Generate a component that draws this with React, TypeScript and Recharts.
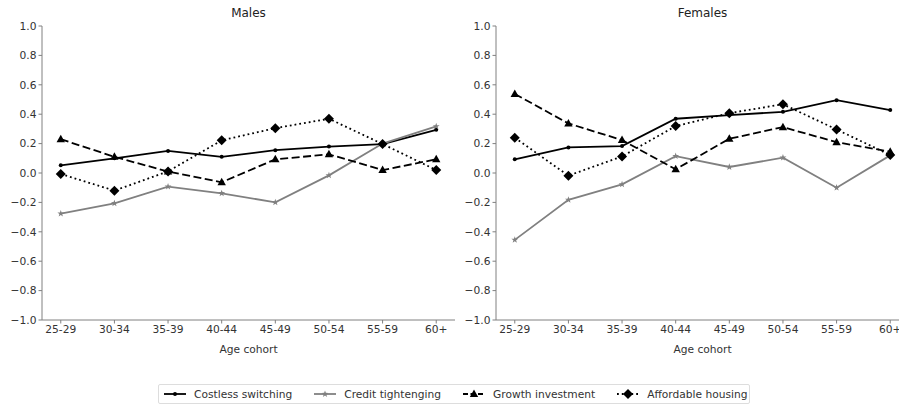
import React from "react";
import { LineChart, Line, XAxis, YAxis } from "recharts";

const cohorts = ["25-29", "30-34", "35-39", "40-44", "45-49", "50-54", "55-59", "60+"];
const yTicks = [-1, -0.8, -0.6, -0.4, -0.2, 0, 0.2, 0.4, 0.6, 0.8, 1];

const malesCostless = [0.052, 0.1, 0.15, 0.11, 0.155, 0.18, 0.197, 0.294];
const malesCredit = [-0.276, -0.206, -0.093, -0.138, -0.2, -0.016, 0.2, 0.317];
const malesGrowth = [0.23, 0.11, 0.01, -0.063, 0.093, 0.127, 0.02, 0.093];
const malesHousing = [-0.007, -0.12, 0.011, 0.222, 0.305, 0.369, 0.197, 0.02];

const femalesCostless = [0.093, 0.174, 0.183, 0.369, 0.394, 0.416, 0.495, 0.428];
const femalesCredit = [-0.455, -0.183, -0.077, 0.115, 0.041, 0.104, -0.1, 0.12];
const femalesGrowth = [0.538, 0.337, 0.224, 0.025, 0.233, 0.312, 0.21, 0.145];
const femalesHousing = [0.24, -0.018, 0.113, 0.319, 0.407, 0.468, 0.296, 0.122];

const FONT = "'DejaVu Sans', sans-serif";
const AXIS = "#808080";
const TEXT = "#333";
const FS = 10.67;

const fmtY = (v: number) => {
  const s = Math.abs(v).toFixed(1);
  return v < -1e-9 ? "\u2212" + s : s;
};

// markers
const SmallDot = (p: any) => <circle cx={p.cx} cy={p.cy} r={2} fill="#000" />;

const starPath = (cx: number, cy: number, R: number) => {
  const r = R * 0.4;
  let d = "";
  for (let i = 0; i < 10; i++) {
    const a = -Math.PI / 2 + (i * Math.PI) / 5;
    const rr = i % 2 === 0 ? R : r;
    d += (i === 0 ? "M" : "L") + (cx + rr * Math.cos(a)).toFixed(2) + "," + (cy + rr * Math.sin(a)).toFixed(2);
  }
  return d + "Z";
};
const Star = (p: any) => <path d={starPath(p.cx, p.cy, 3.6)} fill="#808080" />;

const Triangle = (p: any) => (
  <path d={`M${p.cx},${p.cy - 4.5}L${p.cx + 4.2},${p.cy + 3}L${p.cx - 4.2},${p.cy + 3}Z`} fill="#000" />
);

const Diamond = (p: any) => (
  <path d={`M${p.cx},${p.cy - 5}L${p.cx + 5},${p.cy}L${p.cx},${p.cy + 5}L${p.cx - 5},${p.cy}Z`} fill="#000" />
);

function Panel({
  title,
  costless,
  credit,
  growth,
  housing,
}: {
  title: string;
  costless: number[];
  credit: number[];
  growth: number[];
  housing: number[];
}) {
  const data = cohorts.map((c, i) => ({
    x: i,
    costless: costless[i],
    credit: credit[i],
    growth: growth[i],
    housing: housing[i],
  }));
  return (
    <div style={{ position: "relative", width: 460, height: 360 }}>
      <div
        style={{
          position: "absolute",
          left: 42,
          width: 413,
          top: 6,
          textAlign: "center",
          fontSize: 12,
          color: "#222",
          fontFamily: FONT,
        }}
      >
        {title}
      </div>
      <LineChart width={460} height={360} data={data} margin={{ top: 26, right: 5, bottom: 0, left: 0 }}>
        <XAxis
          dataKey="x"
          type="number"
          domain={[-0.35, 7.35]}
          ticks={[0, 1, 2, 3, 4, 5, 6, 7]}
          tickFormatter={(v: number) => cohorts[v]}
          interval={0}
          height={40}
          stroke={AXIS}
          tickSize={3.5}
          tick={{ fontSize: FS, fill: TEXT, fontFamily: FONT }}
          label={{ value: "Age cohort", position: "insideBottom", offset: 7, fontSize: FS, fill: TEXT, fontFamily: FONT }}
        />
        <YAxis
          type="number"
          domain={[-1, 1]}
          ticks={yTicks}
          tickFormatter={fmtY}
          width={42}
          stroke={AXIS}
          tickSize={3.5}
          tick={{ fontSize: FS, fill: TEXT, fontFamily: FONT }}
          interval={0}
        />
        <Line dataKey="costless" stroke="#000" strokeWidth={1.8} dot={<SmallDot />} activeDot={false} isAnimationActive={false} />
        <Line dataKey="credit" stroke="#808080" strokeWidth={1.8} dot={<Star />} activeDot={false} isAnimationActive={false} />
        <Line
          dataKey="growth"
          stroke="#000"
          strokeWidth={1.8}
          strokeDasharray="8 3.5"
          dot={<Triangle />}
          activeDot={false}
          isAnimationActive={false}
        />
        <Line
          dataKey="housing"
          stroke="#000"
          strokeWidth={1.8}
          strokeDasharray="1.8 3"
          dot={<Diamond />}
          activeDot={false}
          isAnimationActive={false}
        />
      </LineChart>
    </div>
  );
}

const legendItems = [
  { name: "Costless switching", color: "#000", dash: undefined, marker: "dot" },
  { name: "Credit tightenging", color: "#808080", dash: undefined, marker: "star" },
  { name: "Growth investment", color: "#000", dash: "5 2.5", marker: "tri" },
  { name: "Affordable housing", color: "#000", dash: "1.8 3", marker: "dia" },
];

function LegendIcon({ color, dash, marker }: { color: string; dash?: string; marker: string }) {
  return (
    <svg width={24} height={12} style={{ marginRight: 7 }}>
      <line x1={1} y1={6} x2={23} y2={6} stroke={color} strokeWidth={1.8} strokeDasharray={dash} />
      {marker === "dot" && <circle cx={12} cy={6} r={2} fill="#000" />}
      {marker === "star" && <path d={starPath(12, 6, 3.6)} fill="#808080" />}
      {marker === "tri" && <path d="M12,1.5L16.2,9L7.8,9Z" fill="#000" />}
      {marker === "dia" && <path d="M12,1L17,6L12,11L7,6Z" fill="#000" />}
    </svg>
  );
}

export default function App() {
  return (
    <div
      style={{
        position: "absolute",
        left: 0,
        top: 0,
        width: 899,
        height: 405,
        overflow: "hidden",
        background: "#fff",
        fontFamily: FONT,
      }}
    >
      <div style={{ position: "absolute", left: 0, top: 0 }}>
        <Panel title="Males" costless={malesCostless} credit={malesCredit} growth={malesGrowth} housing={malesHousing} />
      </div>
      <div style={{ position: "absolute", left: 454, top: 0 }}>
        <Panel
          title="Females"
          costless={femalesCostless}
          credit={femalesCredit}
          growth={femalesGrowth}
          housing={femalesHousing}
        />
      </div>
      <div
        style={{
          position: "absolute",
          left: 158,
          top: 384,
          width: 592,
          height: 20,
          boxSizing: "border-box",
          border: "1px solid #ddd",
          borderRadius: 2,
          display: "flex",
          alignItems: "center",
          paddingLeft: 4,
          fontSize: FS,
          color: TEXT,
          whiteSpace: "nowrap",
        }}
      >
        {legendItems.map((it, i) => (
          <div key={it.name} style={{ display: "flex", alignItems: "center", marginRight: i < 3 ? 21 : 0 }}>
            <LegendIcon color={it.color} dash={it.dash} marker={it.marker} />
            <span>{it.name}</span>
          </div>
        ))}
      </div>
    </div>
  );
}
